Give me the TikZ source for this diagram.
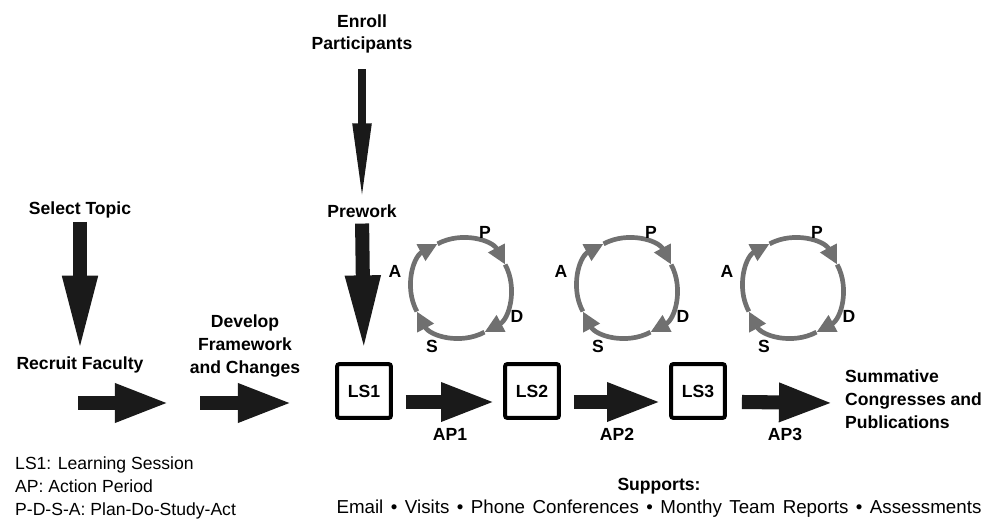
\documentclass[tikz,border=0pt]{standalone}
\usepackage{fontspec}
\setmainfont{Liberation Sans}
\usetikzlibrary{arrows.meta}
\definecolor{cyclegray}{HTML}{707070}
\definecolor{arrowblack}{HTML}{1A1A1A}
\begin{document}
\begin{tikzpicture}[x=0.03cm,y=0.03cm,
    stage/.style={font=\fontsize{15}{19.5}\selectfont\bfseries, align=center, inner sep=0pt},
    plain/.style={font=\fontsize{15}{19.5}\selectfont, inner sep=0pt},
    session/.style={draw, line width=3.4pt, rounded corners=2pt, minimum size=46pt, inner sep=0pt, font=\fontsize{15}{18}\selectfont\bfseries},
    flow/.style={arrowblack, line width=12pt, -{Triangle[length=47pt,width=30pt]}},
    drop/.style={arrowblack, line width=12pt, -{Triangle[length=66pt,width=27pt]}},
    thindrop/.style={arrowblack, line width=7pt, -{Triangle[length=68pt,width=14.5pt]}},
    pdsa/.style={cyclegray, line width=4pt, -{Triangle[length=16pt,width=15pt]}}]
        \useasboundingbox (0,0) rectangle (986,520);
        \node[stage] (enroll) at (362,486) {Enroll\\Participants};
        \node[stage] (prework) at (362,309) {Prework};
        \node[stage] (select) at (80,310) {Select Topic};
        \node[stage] (recruit) at (80,155) {Recruit Faculty};
        \node[stage] (develop) at (245,174) {Develop\\Framework\\and Changes};
        \node[session] (ls1) at (364,129) {LS1};
        \node[session] (ls2) at (532,129) {LS2};
        \node[session] (ls3) at (698,129) {LS3};
        \node[stage] (ap1) at (450,86) {AP1};
        \node[stage] (ap2) at (617,86) {AP2};
        \node[stage] (ap3) at (785,86) {AP3};
        \node[stage, align=left, anchor=west] (summative) at (845,121) {Summative\\Congresses and\\Publications};
        \node[plain, align=left, anchor=west] (legend) at (15,32) {LS1: Learning Session\\AP: Action Period\\P-D-S-A: Plan-Do-Study-Act};
        \node[stage] (supports) at (659,34) {Supports:};
        \node[plain, font=\fontsize{16}{19.5}\selectfont] (channels) at (659,11) {\spaceskip=0.4em Email • Visits • Phone Conferences • Monthy Team Reports • Assessments};
        % start of the flow
        \draw[thindrop, shorten <=13pt, shorten >=1pt] (enroll.south) -- (prework.north);
        \draw[drop, shorten <=3pt, shorten >=3pt] (select.south) -- (recruit.north);
        \draw[drop, shorten <=5pt, shorten >=8pt] (prework.south) -- (ls1.north);
        \coordinate (f1) at (78,117);
        \coordinate (f2) at (170,117);
        \coordinate (f3) at (200,117);
        \coordinate (f4) at (293,117);
        \draw[flow] (f1) -- (f2);
        \draw[flow] (f3) -- (f4);
        % sessions and action periods
        \draw[flow] ([shift={(13,-11)}]ls1.east) -- ([shift={(-7,-11)}]ls2.west);
        \draw[flow] ([shift={(13,-11)}]ls2.east) -- ([shift={(-7,-11)}]ls3.west);
        \draw[flow] ([shift={(15,-11)}]ls3.east) -- ([shift={(-11,-4)}]summative.west);
        % P-D-S-A cycles
        \foreach \cx/\n in {461/1,627/2,793/3} {
            \begin{scope}[shift={(\cx,232)}]
                \foreach \a in {208,118,28,-62}
                    \draw[pdsa] (\a:50) arc[start angle=\a, end angle=\a-90, radius=50];
                \node[stage] (P\n) at (24,56) {P};
                \node[stage] (A\n) at (-66,17) {A};
                \node[stage] (D\n) at (56,-28) {D};
                \node[stage] (S\n) at (-29,-58) {S};
            \end{scope}
        }
    \end{tikzpicture}
\end{document}
